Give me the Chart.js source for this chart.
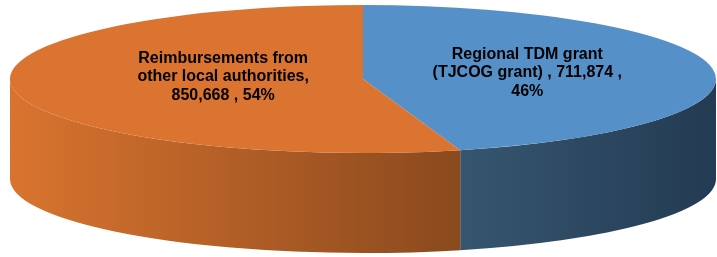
<!DOCTYPE html>
<html>
<head>
<meta charset="utf-8">
<script src="https://cdn.jsdelivr.net/npm/chart.js@4/dist/chart.umd.min.js"></script>
<style>
  html, body { margin: 0; padding: 0; background: #ffffff; }
  #wrap { width: 717px; height: 257px; }
</style>
</head>
<body>
<div id="wrap"><canvas id="c" width="717" height="257"></canvas></div>
<script>
// ---- data ----
const categories = ['Regional TDM grant (TJCOG grant)', 'Reimbursements from other local authorities'];
const values = [711874, 850668];
const separators = [' , ', ', '];

// ---- styles ----
const topColors = ['#5590C8', '#DA7430'];
const sideColors = [['#36566F', '#233B53'], ['#D9742F', '#8A491E']];

function fmt(v) { return v.toLocaleString('en-US'); }

const pie3d = {
  id: 'pie3d',
  beforeDatasetsDraw(chart, args, o) {
    const ctx = chart.ctx;
    const meta = chart.getDatasetMeta(0);
    const a0 = meta.data[0];
    const x = a0.x, y = a0.y, r = a0.outerRadius;
    ctx.save();
    ctx.translate(o.cx, o.cy);
    ctx.scale(o.rx / r, o.ry / r);
    ctx.translate(-x, -y);
    const dc = o.depth * r / o.ry;
    meta.data.forEach((arc, i) => {
      const lo = Math.max(arc.startAngle, 0);
      const hi = Math.min(arc.endAngle, Math.PI);
      if (lo >= hi) return;
      const g = ctx.createLinearGradient(x + r * Math.cos(hi), 0, x + r * Math.cos(lo), 0);
      g.addColorStop(0, sideColors[i][0]);
      g.addColorStop(1, sideColors[i][1]);
      ctx.beginPath();
      ctx.arc(x, y, r, lo, hi);
      ctx.lineTo(x + r * Math.cos(hi), y + r * Math.sin(hi) + dc);
      ctx.arc(x, y + dc, r, hi, lo, true);
      ctx.closePath();
      ctx.fillStyle = g;
      ctx.fill();
    });
  },
  afterDatasetsDraw(chart, args, o) {
    const ctx = chart.ctx;
    ctx.restore();
    const meta = chart.getDatasetMeta(0);
    const total = values.reduce((s, v) => s + v, 0);
    ctx.save();
    ctx.font = 'bold 16px "Liberation Sans", Arial, sans-serif';
    ctx.fillStyle = '#000000';
    ctx.textAlign = 'center';
    ctx.textBaseline = 'alphabetic';
    meta.data.forEach((arc, i) => {
      const pct = Math.round(values[i] / total * 100);
      const text = categories[i] + separators[i] + fmt(values[i]) + ' , ' + pct + '%';
      const words = text.split(' ');
      const lines = [];
      let cur = '';
      words.forEach(w => {
        const t = cur ? cur + ' ' + w : w;
        if (cur && ctx.measureText(t).width > o.wrapWidth) { lines.push(cur); cur = w; }
        else cur = t;
      });
      if (cur) lines.push(cur);
      const mid = (arc.startAngle + arc.endAngle) / 2;
      const f = o.labelRadius[i];
      const px = o.cx + o.rx * f * Math.cos(mid);
      const py = o.cy + o.ry * f * Math.sin(mid) + o.labelDy[i];
      const lh = o.lineHeight;
      const top = py - (lines.length - 1) * lh / 2;
      lines.forEach((ln, k) => ctx.fillText(ln, px, top + k * lh + 5));
    });
    ctx.restore();
  }
};

new Chart(document.getElementById('c'), {
  type: 'pie',
  data: {
    labels: categories,
    datasets: [{
      data: values,
      backgroundColor: topColors,
      borderWidth: 0,
      clip: false
    }]
  },
  options: {
    responsive: false,
    animation: false,
    layout: { padding: 10 },
    plugins: {
      legend: { display: false },
      tooltip: { enabled: false },
      pie3d: { cx: 363, cy: 79, rx: 353, ry: 74, depth: 100, labelRadius: [0.47, 0.40], labelDy: [-2, -7], wrapWidth: 195, lineHeight: 18.5 }
    }
  },
  plugins: [pie3d]
});
</script>
</body>
</html>
